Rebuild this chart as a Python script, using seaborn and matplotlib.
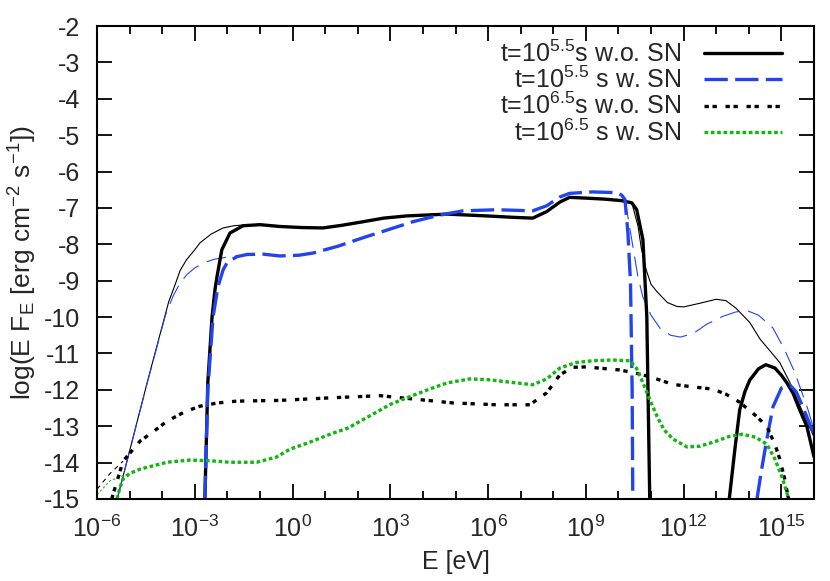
import numpy as np
import matplotlib
matplotlib.use("Agg")
import matplotlib.pyplot as plt
from matplotlib.ticker import NullFormatter
import seaborn as sns

# log10(E/eV) and log(E F_E)
# t=10^5.5 s w.o. SN (thick = absorbed, thin = unabsorbed)
a_x = [-2.69, -2.6, -2.47, -2.38, -2.32, -2.17, -1.92, -1.52, -1.0, -0.39, 0.3, 0.93,
       1.5, 2.16, 2.8, 3.5, 4.74, 5.96, 6.8, 7.37, 7.8, 8.2, 8.5, 9.0, 9.6, 10.1, 10.41,
       10.56, 10.75, 10.87, 10.96]
a_y = [-15.0, -11.8, -10.0, -9.25, -8.9, -8.15, -7.69, -7.49, -7.46, -7.51, -7.54, -7.55,
       -7.48, -7.38, -7.28, -7.22, -7.17, -7.22, -7.26, -7.28, -7.1, -6.84, -6.71, -6.73,
       -6.76, -6.8, -6.86, -7.05, -7.87, -9.99, -15.0]
a_hx = [13.4, 13.57, 13.72, 13.88, 14.03, 14.3, 14.52, 14.8, 15.0, 15.17, 15.36, 15.56,
        15.78, 16.0]
a_hy = [-15.0, -13.65, -12.55, -12.05, -11.73, -11.42, -11.31, -11.4, -11.6, -11.81,
        -12.1, -12.55, -13.0, -13.84]
a_tlx = [-5.38, -4.44, -3.8, -3.6, -3.45, -3.25, -3.0, -2.84, -2.5, -2.13, -1.8, -1.4]
a_tly = [-15.0, -11.73, -9.58, -9.1, -8.72, -8.42, -8.15, -7.96, -7.72, -7.55, -7.49, -7.46]
a_thx = [10.41, 10.6, 10.7, 10.85, 11.0, 11.18, 11.5, 11.8, 12.0, 12.5, 13.0, 13.3, 13.6,
         14.03, 14.34, 14.95, 15.26, 15.6, 16.0]
a_thy = [-6.86, -7.5, -8.1, -8.7, -9.1, -9.3, -9.6, -9.71, -9.72, -9.62, -9.51, -9.55,
         -9.75, -10.15, -10.6, -11.25, -11.8, -12.5, -13.3]

# t=10^5.5 s w. SN
b_x = [-2.69, -2.6, -2.44, -2.29, -2.13, -2.01, -1.71, -1.4, -0.9, -0.39, 0.2, 0.63, 1.4,
       2.16, 3.0, 3.69, 4.5, 5.23, 6.27, 7.0, 7.37, 7.8, 8.2, 8.5, 9.2, 9.95, 10.1, 10.2,
       10.29, 10.37, 10.42, 10.44]
b_y = [-15.0, -12.0, -10.0, -9.17, -8.7, -8.51, -8.34, -8.28, -8.27, -8.32, -8.3, -8.24,
       -8.05, -7.82, -7.58, -7.38, -7.2, -7.08, -7.05, -7.07, -7.08, -6.94, -6.7, -6.6,
       -6.56, -6.58, -6.65, -6.77, -7.68, -9.06, -12.0, -15.0]
b_hx = [14.25, 14.39, 14.55, 14.74, 15.0, 15.26, 15.45, 15.66, 15.87, 16.0]
b_hy = [-15.0, -14.2, -13.37, -12.47, -11.95, -11.87, -12.05, -12.47, -12.95, -13.2]
b_tlx = [-5.38, -4.44, -3.9, -3.67, -3.45, -3.24, -3.0, -2.7, -2.4, -2.0, -1.5]
b_tly = [-15.0, -11.75, -9.95, -9.43, -9.06, -8.83, -8.65, -8.5, -8.41, -8.35, -8.3]
b_thx = [10.2, 10.3, 10.45, 10.6, 10.75, 11.0, 11.27, 11.6, 11.9, 12.3, 12.7, 13.2, 13.6,
         13.94, 14.3, 14.74, 15.1, 15.4, 15.8, 16.0]
b_thy = [-6.77, -7.3, -8.1, -8.9, -9.45, -9.95, -10.3, -10.5, -10.55, -10.45, -10.2, -9.98,
         -9.86, -9.82, -9.95, -10.3, -10.9, -11.5, -12.5, -13.1]

# t=10^6.5 s w.o. SN
c_x = [-5.55, -5.2, -4.68, -4.2, -3.85, -3.3, -2.84, -2.3, -1.71, -0.39, 1.15, 2.68, 3.69,
       4.92, 6.27, 7.28, 7.8, 8.2, 8.6, 9.0, 10.0, 10.44, 11.0, 11.67, 12.3, 12.9, 13.3,
       13.72, 14.2, 14.55, 14.8, 14.95, 15.1, 15.2, 15.22]
c_y = [-15.0, -13.96, -13.41, -13.1, -12.86, -12.6, -12.45, -12.36, -12.31, -12.29, -12.22,
       -12.16, -12.25, -12.36, -12.41, -12.41, -12.08, -11.59, -11.38, -11.37, -11.45,
       -11.52, -11.65, -11.85, -11.92, -11.98, -12.12, -12.34, -12.7, -13.0, -13.5, -13.9,
       -14.45, -14.92, -15.0]
c_tlx = [-6.0, -5.6, -5.2]
c_tly = [-14.73, -14.3, -13.96]

# t=10^6.5 s w. SN
d_x = [-5.39, -5.3, -5.2, -5.0, -4.68, -3.85, -3.15, -2.5, -1.92, -1.1, -0.5, -0.08, 0.5,
       1.15, 1.7, 2.16, 3.0, 3.5, 4.2, 4.74, 5.44, 6.0, 6.58, 7.37, 7.8, 8.2, 8.7, 9.21,
       9.8, 10.35, 10.55, 10.75, 11.0, 11.18, 11.4, 11.67, 12.1, 12.5, 13.0, 13.4, 13.8,
       14.2, 14.55, 14.8, 15.04, 15.2, 15.22]
d_y = [-15.0, -14.7, -14.45, -14.3, -14.18, -13.99, -13.93, -13.95, -13.99, -13.99, -13.85,
       -13.63, -13.45, -13.22, -13.05, -12.82, -12.4, -12.22, -11.98, -11.81, -11.7, -11.72,
       -11.78, -11.86, -11.7, -11.4, -11.25, -11.2, -11.18, -11.2, -11.4, -11.8, -12.35,
       -12.72, -13.1, -13.35, -13.57, -13.55, -13.41, -13.28, -13.22, -13.3, -13.49, -13.9,
       -14.45, -14.92, -15.0]
d_tlx = [-6.0, -5.6, -5.2, -5.0]
d_tly = [-14.88, -14.5, -14.36, -14.3]

labels = [r"t=10$^{5.5}$s w.o. SN", r"t=10$^{5.5}$ s w. SN",
          r"t=10$^{6.5}$s w.o. SN", r"t=10$^{6.5}$ s w. SN"]
xtick_pos = [-6, -3, 0, 3, 6, 9, 12, 15]
xtick_lab = [r"10$^{-6}$", r"10$^{-3}$", r"10$^{0}$", r"10$^{3}$", r"10$^{6}$",
             r"10$^{9}$", r"10$^{12}$", r"10$^{15}$"]

sns.set_style("ticks")
plt.rcParams['font.family'] = ['Liberation Sans', 'DejaVu Sans']
plt.rcParams['mathtext.fontset'] = 'custom'
plt.rcParams['mathtext.rm'] = 'Liberation Sans'
plt.rcParams['mathtext.it'] = 'Liberation Sans:italic'
plt.rcParams['mathtext.default'] = 'regular'
plt.rcParams['axes.unicode_minus'] = False

BLACK = "#000000"
BLUE = "#2244ee"
GREEN = "#11b711"
FS = 18

fig = plt.figure(figsize=(8.3, 5.81), dpi=100)
ax = fig.add_axes([97 / 830, 82 / 581, 717 / 830, 473 / 581])


def draw(lx, ly, color, lw, ls, label=None):
    sns.lineplot(x=10 ** np.array(lx), y=ly, ax=ax, color=color, lw=lw, linestyle=ls,
                 label=label, estimator=None, sort=False)


thin = 0.8
thick = 2.4
# thin (unabsorbed) curves underneath
draw(a_tlx, a_tly, BLACK, thin, '-')
draw(a_thx, a_thy, BLACK, thin, '-')
draw(b_tlx, b_tly, BLUE, thin, (0, (18, 8)))
draw(b_thx, b_thy, BLUE, thin, (0, (18, 8)))
draw(c_tlx, c_tly, BLACK, thin, (0, (4, 4)))
draw(d_tlx, d_tly, GREEN, thin, (0, (2, 2)))

# thick curves
draw(a_x, a_y, BLACK, thick, '-', labels[0])
draw(a_hx, a_hy, BLACK, thick, '-')
draw(b_x, b_y, BLUE, thick, (0, (7, 2.2)), labels[1])
draw(b_hx, b_hy, BLUE, thick, (0, (7, 2.2)))
draw(c_x, c_y, BLACK, thick, (0, (1.3, 1.1, 1.3, 2.6)), labels[2])
draw(d_x, d_y, GREEN, thick, (0, (1.1, 0.8)), labels[3])

ax.set_xscale('log')
ax.set_xlim(1e-6, 1e16)
ax.set_ylim(-15, -2)
ax.set_yticks(np.arange(-15, -1, 1))
ax.set_xticks([10.0 ** p for p in xtick_pos])
ax.set_xticklabels(xtick_lab)
ax.set_xticks([10.0 ** p for p in range(-6, 17) if p not in xtick_pos], minor=True)
ax.xaxis.set_minor_formatter(NullFormatter())
ax.tick_params(which='both', direction='in', top=True, right=True, labelsize=FS,
               width=1.3, color='black')
ax.tick_params(which='major', length=11)
ax.tick_params(which='minor', length=6)
ax.tick_params(axis='x', which='major', pad=12)
ax.tick_params(axis='y', which='major', pad=12)
for s in ax.spines.values():
    s.set_linewidth(1.5)
    s.set_color('black')

ax.set_xlabel("E [eV]", fontsize=FS, labelpad=6)
ax.set_ylabel(r"log(E F$_{E}$ [erg cm$^{-2}$ s$^{-1}$])", fontsize=FS + 1, labelpad=4)

ax.legend(loc='upper right', bbox_to_anchor=(0.955, 0.97), frameon=False,
          markerfirst=False, fontsize=FS, handlelength=3.1, handletextpad=0.9,
          labelspacing=0.0, borderpad=0, borderaxespad=0)

fig.savefig("out.png", dpi=100)
